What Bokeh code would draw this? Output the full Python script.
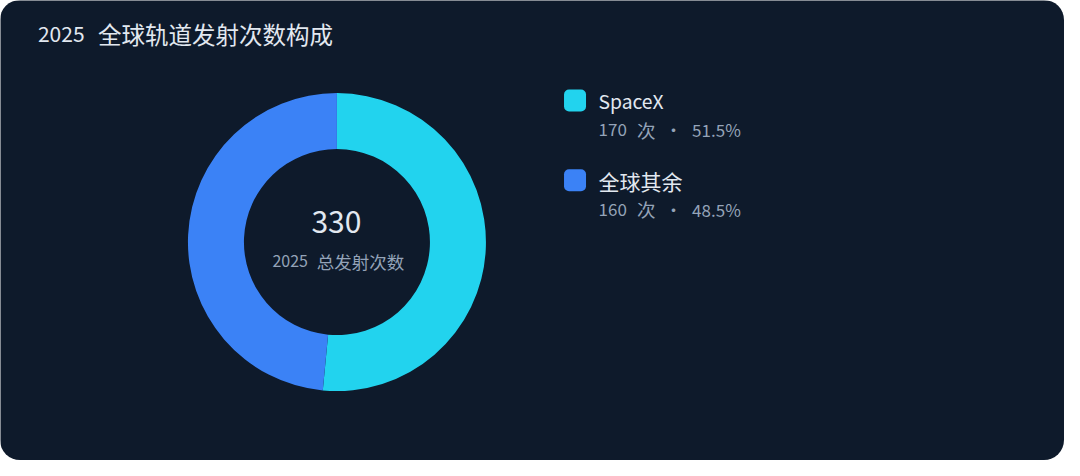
from bokeh.plotting import figure
from bokeh.models import Range1d, ColumnDataSource
from bokeh.core.properties import value
from bokeh.embed import file_html
from bokeh.resources import INLINE
import math

# ---- data ----
title_year = "2025"
title_text = "全球轨道发射次数构成"
categories = ["SpaceX", "全球其余"]
launches = [170, 160]
colors = ["#22d3ee", "#3b82f6"]
unit = "次"
caption_year = "2025"
caption_text = "总发射次数"

total = sum(launches)
shares = [v / total for v in launches]

W, H = 1064, 460
SX, SY = W / 1080, H / 476
BG = "#0e1a2b"
FONT = value("Noto Sans CJK SC")
LIGHT = "#e2e8f0"
MUTED = "#94a3b8"


def X(x):
    return x * SX


def Y(y):
    return H - y * SY


p = figure(width=W, height=H, output_backend="svg", toolbar_location=None,
           x_range=Range1d(0, W), y_range=Range1d(0, H), min_border=0,
           background_fill_color=BG, border_fill_color=BG, outline_line_color=None,
           styles={"border-radius": "20px", "overflow": "hidden"})
p.axis.visible = False
p.grid.visible = False


def txt(x, y, s, size, color, align="left"):
    p.text(x=[X(x)], y=[Y(y)], text=[s], text_font=FONT, text_font_size=size,
           text_color=color, text_align=align, text_baseline="middle")


# donut
starts, ends = [], []
acc = 0.0
for s in shares:
    starts.append(math.pi / 2 - 2 * math.pi * acc)
    acc += s
    ends.append(math.pi / 2 - 2 * math.pi * acc)
src = ColumnDataSource(dict(start=starts, end=ends, color=colors, cat=categories))
p.annular_wedge(x=X(341.5), y=Y(250), inner_radius=93, outer_radius=149,
                start_angle="start", end_angle="end", direction="clock",
                fill_color="color", line_color=None, source=src)

# center texts
txt(341, 229, str(total), "30px", LIGHT, "center")
txt(276, 270, caption_year, "16px", MUTED)
txt(321, 270, caption_text, "17.5px", MUTED)

# title
txt(38, 34.3, title_year, "21px", LIGHT)
txt(99, 34.3, title_text, "23.5px", LIGHT)

# legend
n = len(categories)
cy = [103.5 + 82.5 * i for i in range(n)]
p.quad(left=[X(572)] * n, right=[X(572) + 22] * n,
       top=[Y(c) + 11 for c in cy], bottom=[Y(c) - 11 for c in cy],
       fill_color=colors, line_color=None, border_radius=5)
for i, (cat, v, s) in enumerate(zip(categories, launches, shares)):
    c = cy[i]
    latin = all(ord(ch) < 128 for ch in cat)
    txt(607, c + 0.8, cat, "19.3px" if latin else "21px", LIGHT)
    txt(607, c + 30, str(v), "17px", MUTED)
    txt(646, c + 30, unit, "18.5px", MUTED)
    txt(683, c + 30, "·", "17px", MUTED, "center")
    txt(702, c + 30, f"{s*100:.1f}%", "17px", MUTED)

open("out.html", "w").write(file_html(p, INLINE))
